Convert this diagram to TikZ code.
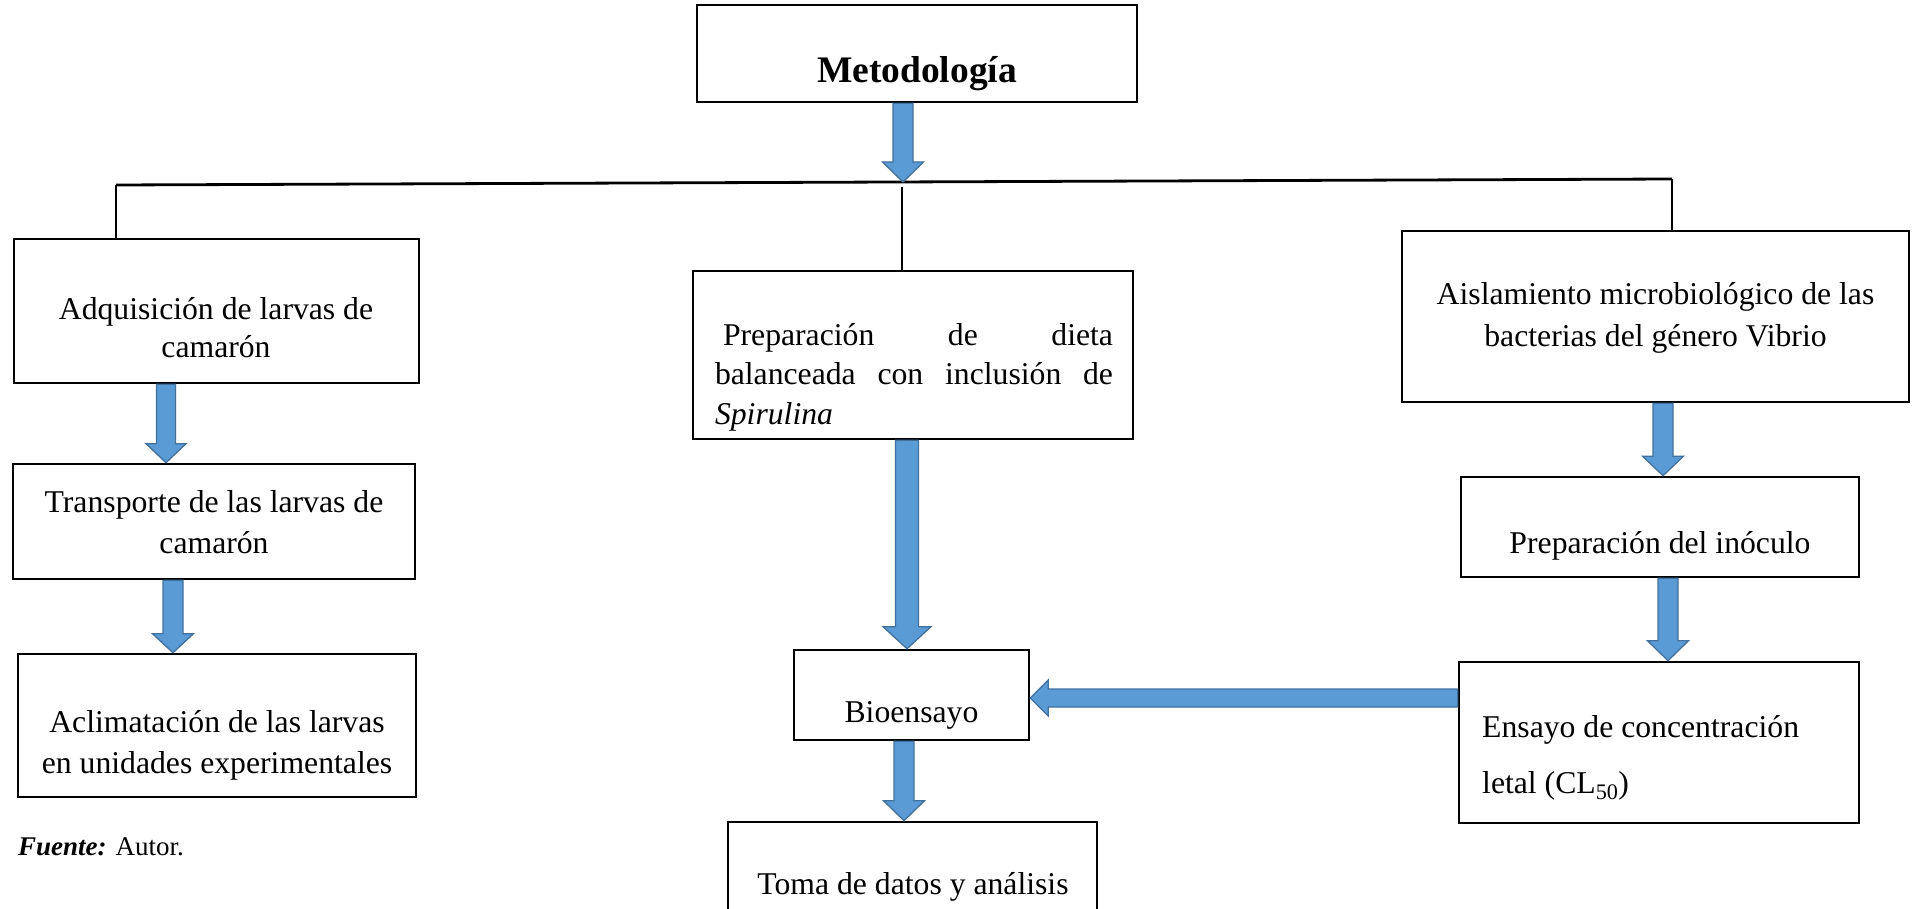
\documentclass[tikz,border=0pt]{standalone}
\usepackage{fontspec}
\setmainfont{Liberation Serif}
\usetikzlibrary{calc}
\definecolor{arrowfill}{HTML}{5B9BD5}
\definecolor{arrowedge}{HTML}{41719C}
\tikzset{
  box/.style={draw=black, line width=2.6pt, inner sep=0pt},
  txt/.style={font=\fontsize{31.7}{38}\selectfont, inner sep=0pt, align=center},
  barrow/.style={fill=arrowfill, draw=arrowedge, line width=1.3pt, line join=miter},
  tree/.style={draw=black, line width=2.2pt}
}
% vertical block arrow: #1 x, #2 from, #3 to (tip), #4 shaft half, #5 head half, #6 head length
\newcommand\vblock[6]{\path[barrow] let \p1=(#2), \p2=(#3) in
  (#1pt-#4pt,\y1) -- (#1pt+#4pt,\y1) -- (#1pt+#4pt,\y2+#6pt) -- (#1pt+#5pt,\y2+#6pt)
  -- (#1pt,\y2) -- (#1pt-#5pt,\y2+#6pt) -- (#1pt-#4pt,\y2+#6pt) -- cycle;}
\begin{document}
\begin{tikzpicture}[x=1pt,y=-1pt]
\clip (0,0) rectangle (1916,909);
\fill[white] (0,0) rectangle (1916,909);

% boxes
\node[box, minimum width=440, minimum height=97] (meto) at (917,53.5) {};
\node[box, minimum width=405, minimum height=144] (adq) at (216.5,311) {};
\node[box, minimum width=402, minimum height=115] (tra) at (214,521.5) {};
\node[box, minimum width=398, minimum height=143] (acl) at (217,725.5) {};
\node[box, minimum width=440, minimum height=168] (prep) at (913,355) {};
\node[box, minimum width=235, minimum height=90] (bio) at (911.5,695) {};
\node[box, minimum width=369, minimum height=120] (toma) at (912.5,882) {};
\node[box, minimum width=507, minimum height=171] (ais) at (1655.5,316.5) {};
\node[box, minimum width=398, minimum height=100] (ino) at (1660,527) {};
\node[box, minimum width=400, minimum height=161] (ens) at (1659,742.5) {};

% texts
\node[font=\fontsize{37.5}{40}\selectfont\bfseries, inner sep=0pt, anchor=base] (tmeto) at (917,83) {Metodología};
\node[txt, font=\fontsize{31.7}{38}\selectfont] (tadq) at (216,328) {Adquisición de larvas de\\camarón};
\node[txt, font=\fontsize{31.7}{41}\selectfont] (ttra) at (214,522) {Transporte de las larvas de\\camarón};
\node[txt, font=\fontsize{31.7}{41}\selectfont] (tacl) at (217,745) {Aclimatación de las larvas\\en unidades experimentales};
\node[txt, align=left, font=\fontsize{31.7}{39.5}\selectfont] (tprep) at (914,377)
  {\makebox[398pt][s]{\hspace*{8pt}Preparación de dieta}\\
   \makebox[398pt][s]{balanceada con inclusión de}\\
   \textit{Spirulina}\hspace*{260pt}};
\node[txt] (tbio) at (911.5,715) {Bioensayo};
\node[txt] (ttoma) at (913,887) {Toma de datos y análisis};
\node[txt, font=\fontsize{31.7}{42}\selectfont] (tais) at (1655.5,318) {Aislamiento microbiológico de las\\bacterias del género Vibrio};
\node[txt] (tino) at (1660,546) {Preparación del inóculo};
\node[txt, align=left, anchor=west, font=\fontsize{31.7}{56}\selectfont] (tens) at (1482,758) {Ensayo de concentración\\letal (CL\textsubscript{50})};
\node[inner sep=0pt, anchor=base west, font=\fontsize{27}{30}\selectfont] (fuente) at (18,855) {\textbf{\textit{Fuente:}} Autor.};

% tree connector
\coordinate (hl) at (116,185);
\coordinate (hr) at (1672,179);
\coordinate (hm) at (902,187);
\coordinate (hmid) at (903,182);
\draw[tree, line width=2.8pt] (hl) -- (hr);
\draw[tree] (hl) -- (adq.north -| hl);
\draw[tree] (hr) -- (ais.north -| hr);
\draw[tree] (hm) -- (prep.north -| hm);

% block arrows
\vblock{903}{meto.south -| hmid}{hmid}{10}{20.5}{20}
\coordinate (hy) at (0,698);
\vblock{166}{adq.south}{tra.north}{9.5}{20}{19}
\vblock{173}{tra.south}{acl.north}{10}{20.5}{19}
\vblock{907}{prep.south}{bio.north}{11.5}{24}{22}
\vblock{904}{bio.south}{toma.north}{10}{20.5}{20}
\vblock{1663}{ais.south}{ino.north}{10}{20.5}{19.5}
\vblock{1668}{ino.south}{ens.north}{10}{20.5}{20}
\path[barrow] let \p1=(ens.west), \p2=(bio.east), \p3=(hy) in
  (\x1,\y3+9pt) -- (\x2+18pt,\y3+9pt) -- (\x2+18pt,\y3+18pt) -- (\x2,\y3)
  -- (\x2+18pt,\y3-18pt) -- (\x2+18pt,\y3-9pt) -- (\x1,\y3-9pt) -- cycle;
\end{tikzpicture}
\end{document}
